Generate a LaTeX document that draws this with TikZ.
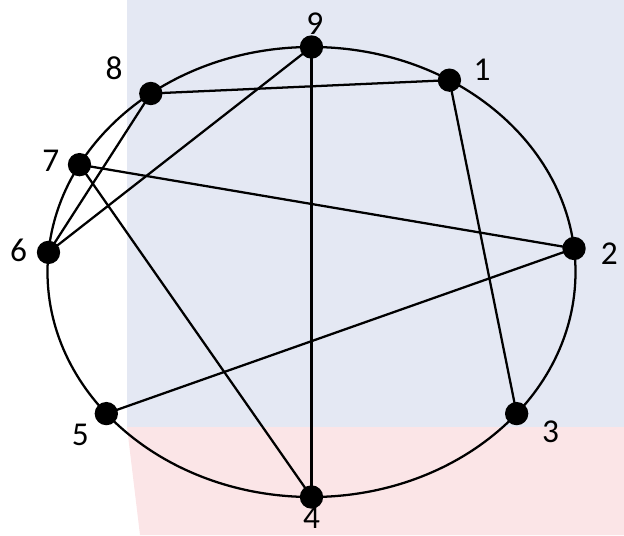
\documentclass[tikz,border=0pt]{standalone}
\usepackage{fontspec}
\setmainfont{Carlito}
\usetikzlibrary{positioning}
\definecolor{gInk}{HTML}{000000}
\definecolor{gBlueBg}{HTML}{E4E8F3}
\definecolor{gPinkBg}{HTML}{FBE5E7}
\tikzset{
  % Vertex dot
  vert/.style={circle,inner sep=0pt,minimum size=17.5pt,fill=gInk},
  % Vertex number
  vlbl/.style={inner sep=0pt,font=\fontsize{25}{28}\selectfont,text=gInk},
  % Edges and the outer ring
  link/.style={line width=1.7pt,color=gInk},
}

\begin{document}
\begin{tikzpicture}[x=0.75pt,y=0.75pt]

  \useasboundingbox (-311.5,-263) rectangle (312.5,272);

  % backdrop
  \fill[gBlueBg] (-184.5,272) rectangle (312.5,-155);
  \fill[gPinkBg] (-184.5,-155) -- (312.5,-155) -- (312.5,-263) -- (-171.5,-263) -- cycle;

  \draw[link] (0,0) ellipse [x radius=264,y radius=225];

  \foreach \n/\a in {1/58.5,2/6,3/-39,4/-90,5/-141,6/175,7/151.5,8/127.5,9/90}
    \node[vert] (v\n) at (\a:264 and 225) {};

  \node[vlbl,right=9pt of v1,yshift=8pt] (l1) {1};
  \node[vlbl,right=11pt of v2,yshift=-4pt] (l2) {2};
  \node[vlbl,right=10pt of v3,yshift=-14pt] (l3) {3};
  \node[vlbl,below=-1.5pt of v4] (l4) {4};
  \node[vlbl,left=4pt of v5,yshift=-16pt] (l5) {5};
  \node[vlbl,left=7pt of v6,yshift=1.5pt] (l6) {6};
  \node[vlbl,left=6pt of v7,yshift=3pt] (l7) {7};
  \node[vlbl,left=12pt of v8,yshift=19pt] (l8) {8};
  \node[vlbl,above=0.5pt of v9,xshift=2.5pt] (l9) {9};

  \foreach \from/\to in {9/4,9/6,8/1,8/6,7/2,7/4,1/3,2/5}
    \draw[link] (v\from.center) -- (v\to.center);

\end{tikzpicture}
\end{document}
